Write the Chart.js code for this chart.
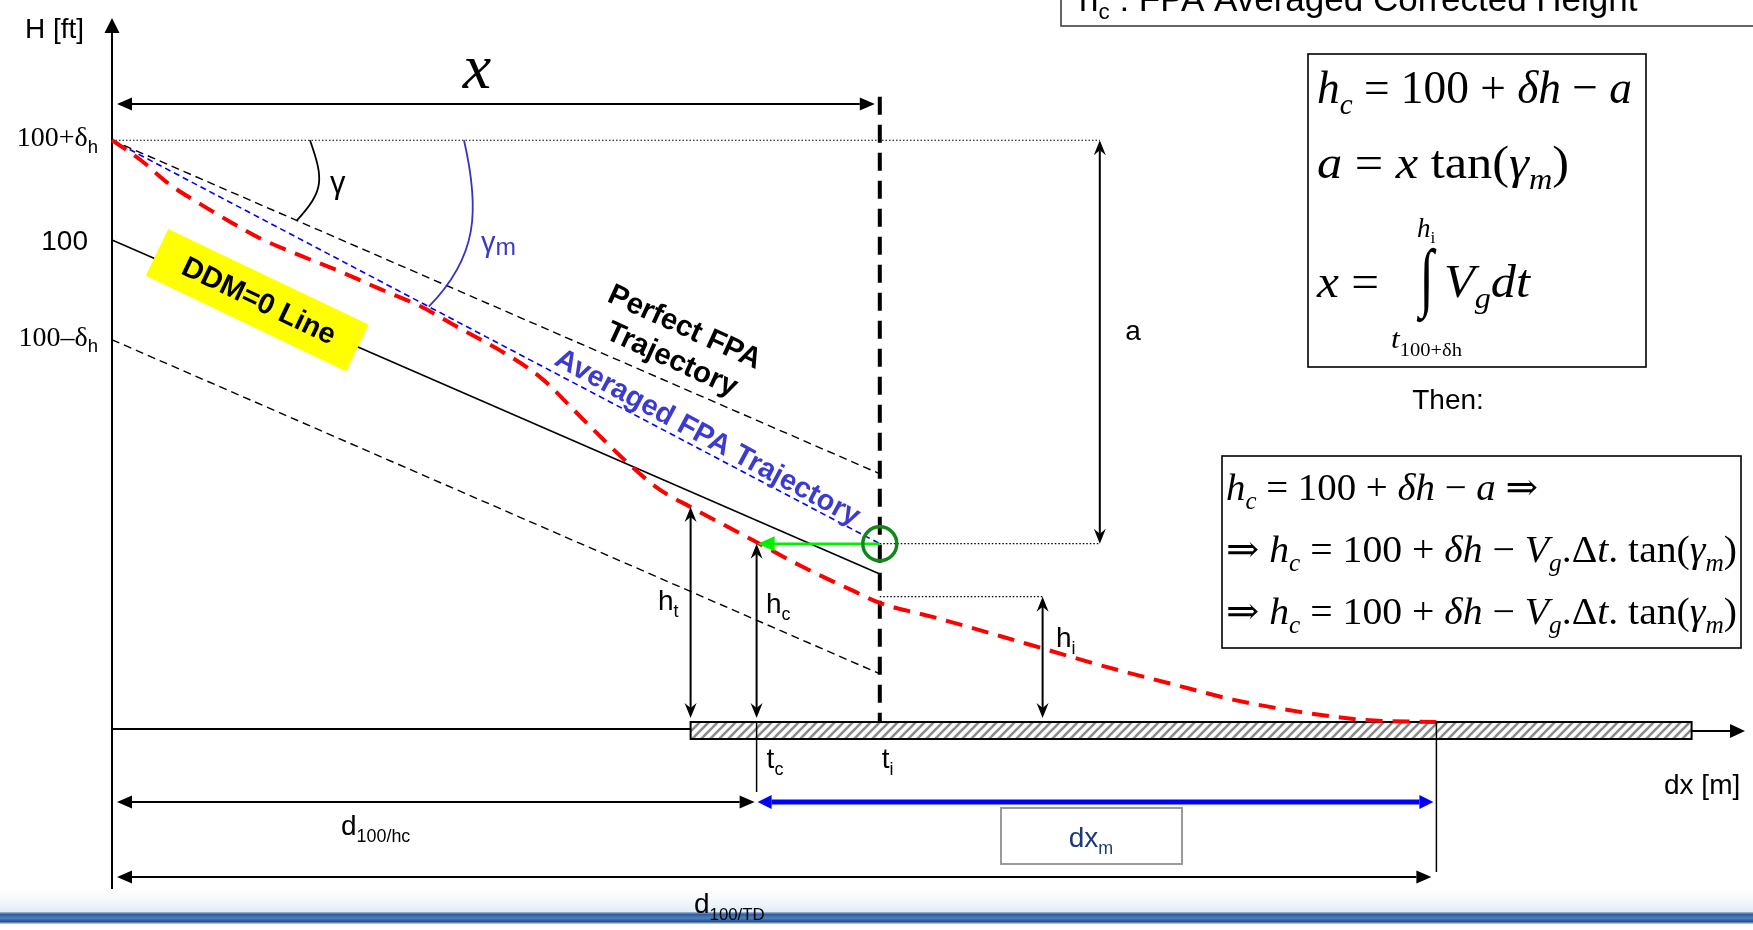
<!DOCTYPE html>
<html>
<head>
<meta charset="utf-8">
<script src="https://cdn.jsdelivr.net/npm/chart.js@4.4.1/dist/chart.umd.min.js"></script>
<style>
  html, body { margin: 0; padding: 0; background: #fff; overflow: hidden; }
  canvas { display: block; }
</style>
</head>
<body>
<canvas id="approach" width="1753" height="930" style="width:1753px;height:930px"></canvas>
<script>
// Approach profile: distance in metres from the 100 ft point, height in feet.
const deltaH = 20.7;

// Measured (instantaneous) trajectory, red dashed curve
const distance = [0, 13, 26, 40, 54, 67, 86, 104, 122, 140, 158, 176, 195, 210, 224, 236, 248, 263, 291, 313, 336, 349, 373, 404, 422, 449, 480, 510, 540, 570, 602];
const measuredHeight = [120.7, 116.6, 111.6, 107.5, 103.7, 100.4, 96.7, 93.4, 89.8, 86.3, 81.7, 77.2, 71.4, 64.7, 58.3, 53.1, 48.5, 44.6, 37.8, 32.4, 27.4, 24.7, 21.8, 17.8, 15.4, 11.8, 8.1, 4.6, 2.1, 0.4, 0];

// Straight reference lines, from the 100 ft point to t_i
const lineDistance = [0, 349];
const perfectFpa = [120.7, 51.5];
const averagedFpa = [120.7, 37.0];
const ddmZero = [100, 30.7];
const lowerBound = [79.3, 10.0];

// Height axis ticks
const heightTicks = [100 + deltaH, 100, 100 - deltaH];
const heightTickText = ['100+δ', '100', '100–δ'];
const heightTickSub = ['h', '', 'h'];

// Events along the runway
const eventDistance = [293, 349];      // t_c, t_i
const eventSub = ['c', 'i'];
const thresholdDist = 263;
const touchdownDist = 602;
const runwayEndDist = 718;
const hiMarkerDist = 423;
const aMarkerDist = 449;
const hThreshold = 44.6;
const hCorrected = 37.0;
const hInstant = 26.0;

// canvas layout
const W = 1753, H = 930;
const ORIGIN_X = 112, PX_PER_M = 2.2, GROUND_Y = 722, PX_PER_FT = 4.82;

const pts = (xs, ys) => xs.map((x, i) => ({ x, y: ys[i] }));
const lineDs = (label, data, color, width, dash, order, extra) => Object.assign({
  label, data, showLine: true, borderColor: color, borderWidth: width,
  borderDash: dash, borderCapStyle: 'butt', pointRadius: 0, pointHoverRadius: 0,
  fill: false, order, clip: false
}, extra || {});

const tI = eventDistance[1], tC = eventDistance[0];

const datasets = [
  { label: 'h_c at t_i', data: [{ x: tI, y: hCorrected }], showLine: false, pointRadius: 17,
    pointBorderColor: '#13861a', pointBorderWidth: 3.5, pointBackgroundColor: 'rgba(0,0,0,0)', order: 0, clip: false },
  lineDs('Projection', [{ x: tI, y: hCorrected }, { x: tC + 6, y: hCorrected }], '#00f000', 2.5, [], 1),
  lineDs('Measured trajectory', pts(distance, measuredHeight), '#ff0000', 4, [17, 10], 2,
    { cubicInterpolationMode: 'monotone' }),
  lineDs('t_i', [{ x: tI, y: 129.7 }, { x: tI, y: 0 }], '#000', 4, [18, 10], 3),
  lineDs('Averaged FPA', pts(lineDistance, averagedFpa), '#0000ff', 1.6, [6, 4], 4),
  lineDs('Perfect FPA', pts(lineDistance, perfectFpa), '#000', 1.4, [8, 5], 5),
  lineDs('DDM=0', pts(lineDistance, ddmZero), '#000', 1.6, [], 6),
  lineDs('Lower bound', pts(lineDistance, lowerBound), '#000', 1.4, [8, 5], 7)
];

// ---------- drawing helpers ----------
function seg(ctx, x1, y1, x2, y2) { ctx.beginPath(); ctx.moveTo(x1, y1); ctx.lineTo(x2, y2); ctx.stroke(); }

function head(ctx, tx, ty, ang, len, half, notch) {
  const c = Math.cos(ang), s = Math.sin(ang);
  const bx = tx - len * c, by = ty - len * s;
  ctx.beginPath();
  ctx.moveTo(tx, ty);
  ctx.lineTo(bx - half * s, by + half * c);
  if (notch) ctx.lineTo(tx - (len - notch) * c, ty - (len - notch) * s);
  ctx.lineTo(bx + half * s, by - half * c);
  ctx.closePath();
  ctx.fill();
}

function dimArrow(ctx, x1, y1, x2, y2, o) {
  const ang = Math.atan2(y2 - y1, x2 - x1);
  const c = Math.cos(ang), s = Math.sin(ang);
  const back = o.len - (o.notch || 0);
  ctx.strokeStyle = o.color; ctx.fillStyle = o.color; ctx.lineWidth = o.width; ctx.setLineDash([]);
  seg(ctx, x1 + back * c, y1 + back * s, x2 - back * c, y2 - back * s);
  head(ctx, x2, y2, ang, o.len, o.half, o.notch);
  head(ctx, x1, y1, ang + Math.PI, o.len, o.half, o.notch);
}

function fontOf(r, size, family) {
  const sz = r.sub ? size * (r.k || 0.64) : size;
  return (r.i ? 'italic ' : '') + (r.b ? 'bold ' : '') + sz.toFixed(1) + 'px ' + (r.f || family);
}

// rich text: runs of {t, i(talic), sub}; optional fit-to-width
function rich(ctx, runs, x, y, o) {
  const size = o.size, family = o.family;
  const widths = runs.map(r => { ctx.font = fontOf(r, size, family); return ctx.measureText(r.t).width; });
  const total = widths.reduce((a, b) => a + b, 0);
  const sx = o.width ? o.width / total : 1;
  ctx.save();
  ctx.translate(x, y);
  if (o.rot) ctx.rotate(o.rot);
  const start = o.align === 'center' ? -total * sx / 2 : o.align === 'right' ? -total * sx : 0;
  ctx.translate(start, 0);
  ctx.scale(sx, 1);
  ctx.fillStyle = o.color || '#000';
  ctx.textAlign = 'left';
  ctx.textBaseline = o.baseline || 'alphabetic';
  let cx = 0;
  runs.forEach((r, k) => {
    ctx.font = fontOf(r, size, family);
    const dy = r.sub ? size * (r.dy || 0.24) : 0;
    ctx.fillText(r.t, cx, dy);
    cx += widths[k];
  });
  ctx.restore();
}

let hatchPattern = null;
function hatch(ctx) {
  if (hatchPattern) return hatchPattern;
  const c = document.createElement('canvas');
  c.width = 9; c.height = 9;
  const g = c.getContext('2d');
  g.fillStyle = '#fff'; g.fillRect(0, 0, 9, 9);
  g.strokeStyle = '#8c8c8c'; g.lineWidth = 2.6;
  [[-9, 18, 18, -9], [-18, 18, 9, -9], [0, 18, 27, -9]].forEach(([a, b, c2, d]) => {
    g.beginPath(); g.moveTo(a, b); g.lineTo(c2, d); g.stroke();
  });
  hatchPattern = ctx.createPattern(c, 'repeat');
  return hatchPattern;
}

const SANS = '"Liberation Sans", Arial, sans-serif';
const SERIF = '"Liberation Serif", "DejaVu Serif", serif';

function onLine(ys, d) { return ys[0] + (ys[1] - ys[0]) * (d - lineDistance[0]) / (lineDistance[1] - lineDistance[0]); }

const diagram = {
  id: 'diagram',
  beforeDatasetsDraw(chart) {
    const ctx = chart.ctx;
    const X = v => chart.scales.x.getPixelForValue(v);
    const Y = v => chart.scales.y.getPixelForValue(v);
    ctx.save();
    ctx.fillStyle = '#fff';
    ctx.fillRect(0, 0, W, H);

    // footer rule
    const haze = ctx.createLinearGradient(0, 890, 0, 912);
    haze.addColorStop(0, 'rgba(235,242,250,0)');
    haze.addColorStop(1, 'rgba(225,235,247,1)');
    ctx.fillStyle = haze; ctx.fillRect(0, 890, W, 22);
    const band = ctx.createLinearGradient(0, 912, 0, 924);
    band.addColorStop(0, '#a9c0df');
    band.addColorStop(0.2, '#2f5c9c');
    band.addColorStop(0.5, '#4f7fbf');
    band.addColorStop(0.8, '#24508f');
    band.addColorStop(1, '#d4e0ef');
    ctx.fillStyle = band; ctx.fillRect(0, 912, W, 12);

    // height axis
    ctx.strokeStyle = '#000'; ctx.fillStyle = '#000'; ctx.lineWidth = 2; ctx.setLineDash([]);
    seg(ctx, X(0), 889, X(0), 30);
    head(ctx, X(0), 18, -Math.PI / 2, 15, 7.5);

    // ground and distance axis
    seg(ctx, X(0), Y(0) + 7, X(thresholdDist), Y(0) + 7);
    seg(ctx, X(runwayEndDist), Y(0) + 9, 1732, Y(0) + 9);
    head(ctx, 1745, Y(0) + 9, 0, 15, 7);

    // runway
    const rx = X(thresholdDist), rw = X(runwayEndDist) - rx;
    ctx.fillStyle = hatch(ctx);
    ctx.fillRect(rx, Y(0), rw, 17);
    ctx.lineWidth = 2; ctx.strokeRect(rx, Y(0), rw, 17);

    // dotted guides
    ctx.lineWidth = 1.2; ctx.setLineDash([1.5, 2]); ctx.strokeStyle = '#000';
    seg(ctx, X(0), Y(heightTicks[0]), X(aMarkerDist), Y(heightTicks[0]));
    seg(ctx, X(tI), Y(hCorrected), X(aMarkerDist), Y(hCorrected));
    seg(ctx, X(tI), Y(hInstant), X(hiMarkerDist), Y(hInstant));
    ctx.setLineDash([]);
    ctx.restore();
  },
  afterDatasetsDraw(chart) {
    const ctx = chart.ctx;
    const X = v => chart.scales.x.getPixelForValue(v);
    const Y = v => chart.scales.y.getPixelForValue(v);
    ctx.save();
    ctx.setLineDash([]);

    // event ticks below the runway
    ctx.strokeStyle = '#000'; ctx.lineWidth = 1.5;
    seg(ctx, X(tC), Y(0), X(tC), 792);
    seg(ctx, X(touchdownDist), Y(0), X(touchdownDist), 872);

    // vertical height arrows
    const vOpt = { color: '#000', width: 2, len: 15, half: 6, notch: 5 };
    dimArrow(ctx, X(thresholdDist), Y(0) - 4, X(thresholdDist), Y(hThreshold), vOpt);
    dimArrow(ctx, X(tC), Y(0) - 4, X(tC), Y(hCorrected), vOpt);
    dimArrow(ctx, X(hiMarkerDist), Y(0) - 4, X(hiMarkerDist), Y(hInstant), vOpt);
    dimArrow(ctx, X(aMarkerDist), Y(hCorrected), X(aMarkerDist), Y(heightTicks[0]), vOpt);

    // horizontal distance arrows
    const hOpt = { color: '#000', width: 2, len: 15, half: 6.5 };
    dimArrow(ctx, X(0) + 5, 104, X(tI) - 5, 104, hOpt);
    dimArrow(ctx, X(0) + 5, 802, X(tC) - 2, 802, hOpt);
    dimArrow(ctx, X(0) + 5, 877, X(touchdownDist) - 5, 877, hOpt);
    dimArrow(ctx, X(tC) + 1, 802, X(touchdownDist) - 3, 802, { color: '#0000ff', width: 5, len: 14, half: 7 });

    // projection arrow head
    ctx.fillStyle = '#00f000';
    head(ctx, X(tC) + 1, Y(hCorrected), Math.PI, 17, 7.5);

    // angle leaders
    const gA = [X(90), Y(heightTicks[0])], gB = [X(84), Y(onLine(perfectFpa, 84))];
    ctx.strokeStyle = '#000'; ctx.lineWidth = 1.8;
    ctx.beginPath(); ctx.moveTo(gA[0], gA[1]);
    ctx.bezierCurveTo(gA[0] + 14, gA[1] + 40, gA[0] + 14, gB[1] - 30, gB[0], gB[1]); ctx.stroke();
    const mA = [X(160), Y(heightTicks[0])], mB = [X(144), Y(onLine(averagedFpa, 144))];
    ctx.strokeStyle = '#3434c4'; ctx.lineWidth = 1.8;
    ctx.beginPath(); ctx.moveTo(mA[0], mA[1]);
    ctx.bezierCurveTo(mA[0] + 16, mA[1] + 70, mA[0] + 14, mB[1] - 50, mB[0], mB[1]); ctx.stroke();

    // DDM=0 label box
    const dd = 66, dx0 = X(dd), dy0 = Y(onLine(ddmZero, dd)) - 3, dRot = 25.5 * Math.PI / 180;
    ctx.save();
    ctx.translate(dx0, dy0); ctx.rotate(dRot);
    ctx.fillStyle = '#ffff00'; ctx.fillRect(-111, -26, 222, 52);
    ctx.fillStyle = '#000'; ctx.font = 'bold 29px ' + SANS; ctx.textAlign = 'center'; ctx.textBaseline = 'middle';
    ctx.fillText('DDM=0 Line', 2, 1);
    ctx.restore();

    // trajectory captions
    const pRot = 24.5 * Math.PI / 180;
    rich(ctx, [{ t: 'Perfect FPA', b: 1 }], 606, 301, { size: 29.5, family: SANS, rot: pRot });
    rich(ctx, [{ t: 'Trajectory', b: 1 }], 604, 338, { size: 29.5, family: SANS, rot: pRot });
    rich(ctx, [{ t: 'Averaged FPA Trajectory', b: 1 }], 553, 364, { size: 29, family: SANS, rot: 28.3 * Math.PI / 180, color: '#3b3bd2' });

    // angles
    rich(ctx, [{ t: 'γ' }], 330, 193, { size: 31, family: SANS });
    rich(ctx, [{ t: 'γ' }, { t: 'm', sub: 1, k: 0.85, dy: 0.1 }], 481, 252, { size: 29, family: SANS, color: '#3a3ac4' });

    // axis titles and tick labels
    rich(ctx, [{ t: 'H [ft]' }], 25, 38, { size: 28, family: SANS });
    rich(ctx, [{ t: 'dx [m]' }], 1664, 794, { size: 28, family: SANS });
    heightTicks.forEach((v, k) => {
      if (heightTickSub[k]) {
        rich(ctx, [{ t: heightTickText[k], f: SERIF }, { t: heightTickSub[k], sub: 1, k: 0.66 }], 98, Y(v) + 6, { size: 28, family: SANS, align: 'right' });
      } else {
        rich(ctx, [{ t: heightTickText[k] }], 88, Y(v) + 10, { size: 28, family: SANS, align: 'right' });
      }
    });

    // dimension labels
    rich(ctx, [{ t: 'x', i: 1 }], 477, 88, { size: 64, family: SERIF, align: 'center' });
    rich(ctx, [{ t: 'a' }], 1133, 340, { size: 28, family: SANS, align: 'center' });
    rich(ctx, [{ t: 'h' }, { t: 't', sub: 1 }], 658, 610, { size: 28, family: SANS });
    rich(ctx, [{ t: 'h' }, { t: 'c', sub: 1 }], 766, 613, { size: 28, family: SANS });
    rich(ctx, [{ t: 'h' }, { t: 'i', sub: 1 }], 1056, 647, { size: 28, family: SANS });
    eventDistance.forEach((d, k) => {
      rich(ctx, [{ t: 't' }, { t: eventSub[k], sub: 1 }], X(d) + (k ? 2 : 10), 768, { size: 28, family: SANS });
    });
    rich(ctx, [{ t: 'd' }, { t: '100/hc', sub: 1 }], 341, 835, { size: 28, family: SANS });
    rich(ctx, [{ t: 'd' }, { t: '100/TD', sub: 1, k: 0.6 }], 694, 913, { size: 28, family: SANS });

    // dx_m box
    ctx.strokeStyle = '#9a9a9a'; ctx.lineWidth = 2;
    ctx.strokeRect(1001, 808, 181, 56);
    rich(ctx, [{ t: 'dx' }, { t: 'm', sub: 1 }], 1091, 847, { size: 28, family: SANS, align: 'center', color: '#1d3a78' });

    // definition box at the top
    ctx.strokeStyle = '#333'; ctx.lineWidth = 1.5;
    ctx.strokeRect(1061, -20, 720, 46);
    rich(ctx, [{ t: 'h' }, { t: 'c', sub: 1, k: 0.64, dy: 0.22 }, { t: ' : FPA Averaged Corrected Height' }], 1079, 11, { size: 35, family: SANS });

    // formula box 1
    ctx.strokeStyle = '#000'; ctx.lineWidth = 1.6;
    ctx.strokeRect(1308, 54, 338, 313);
    rich(ctx, [{ t: 'h', i: 1 }, { t: 'c', i: 1, sub: 1 }, { t: ' = ' }, { t: '100' }, { t: ' + ' }, { t: 'δh', i: 1 }, { t: ' − ' }, { t: 'a', i: 1 }],
      1317, 103, { size: 47, family: SERIF, width: 315 });
    rich(ctx, [{ t: 'a', i: 1 }, { t: ' = ' }, { t: 'x', i: 1 }, { t: ' tan(' }, { t: 'γ', i: 1 }, { t: 'm', i: 1, sub: 1 }, { t: ')' }],
      1317, 178, { size: 47, family: SERIF, width: 252 });
    rich(ctx, [{ t: 'x', i: 1 }, { t: ' =' }], 1317, 297, { size: 47, family: SERIF, width: 62 });
    // integral sign fitted to its box
    ctx.save();
    ctx.font = '60px ' + SERIF;
    const m = ctx.measureText('∫');
    const gh = m.actualBoundingBoxAscent + m.actualBoundingBoxDescent;
    const gw = m.actualBoundingBoxLeft + m.actualBoundingBoxRight;
    const sy = 76 / gh, sxI = 20 / gw;
    ctx.translate(1417, 248);
    ctx.scale(sxI, sy);
    ctx.fillStyle = '#000'; ctx.textBaseline = 'alphabetic'; ctx.textAlign = 'left';
    ctx.fillText('∫', m.actualBoundingBoxLeft, m.actualBoundingBoxAscent);
    ctx.restore();
    rich(ctx, [{ t: 'h', i: 1 }, { t: 'i', sub: 1 }], 1417, 237, { size: 27, family: SERIF });
    rich(ctx, [{ t: 't', i: 1 }, { t: '100+δh', sub: 1, k: 0.66, dy: 0.3 }], 1391, 348, { size: 28, family: SERIF, width: 71 });
    rich(ctx, [{ t: 'V', i: 1 }, { t: 'g', i: 1, sub: 1 }, { t: 'dt', i: 1 }], 1444, 297, { size: 47, family: SERIF, width: 86 });

    rich(ctx, [{ t: 'Then:' }], 1448, 409, { size: 28, family: SANS, align: 'center' });

    // formula box 2
    ctx.strokeStyle = '#000'; ctx.lineWidth = 1.6;
    ctx.strokeRect(1222, 456, 519, 192);
    const hcEq = [{ t: 'h', i: 1 }, { t: 'c', i: 1, sub: 1 }, { t: ' = ' }, { t: '100' }, { t: ' + ' }, { t: 'δh', i: 1 }, { t: ' − ' }];
    rich(ctx, hcEq.concat([{ t: 'a', i: 1 }, { t: ' ⇒' }]), 1226, 500, { size: 38, family: SERIF, width: 312 });
    const full = [{ t: '⇒ ' }].concat(hcEq, [{ t: 'V', i: 1 }, { t: 'g', i: 1, sub: 1 }, { t: '.Δ' }, { t: 't', i: 1 }, { t: '. tan(' }, { t: 'γ', i: 1 }, { t: 'm', i: 1, sub: 1 }, { t: ')' }]);
    rich(ctx, full, 1226, 562, { size: 38, family: SERIF, width: 511 });
    rich(ctx, full, 1226, 624, { size: 38, family: SERIF, width: 511 });

    ctx.restore();
  }
};

new Chart(document.getElementById('approach'), {
  type: 'scatter',
  data: { datasets },
  options: {
    responsive: false,
    animation: false,
    devicePixelRatio: 1,
    events: [],
    layout: { padding: 0, autoPadding: false },
    plugins: { legend: { display: false }, tooltip: { enabled: false } },
    scales: {
      x: { type: 'linear', display: false, min: -ORIGIN_X / PX_PER_M, max: (W - ORIGIN_X) / PX_PER_M },
      y: { type: 'linear', display: false, min: -(H - GROUND_Y) / PX_PER_FT, max: GROUND_Y / PX_PER_FT }
    }
  },
  plugins: [diagram]
});
</script>
</body>
</html>
